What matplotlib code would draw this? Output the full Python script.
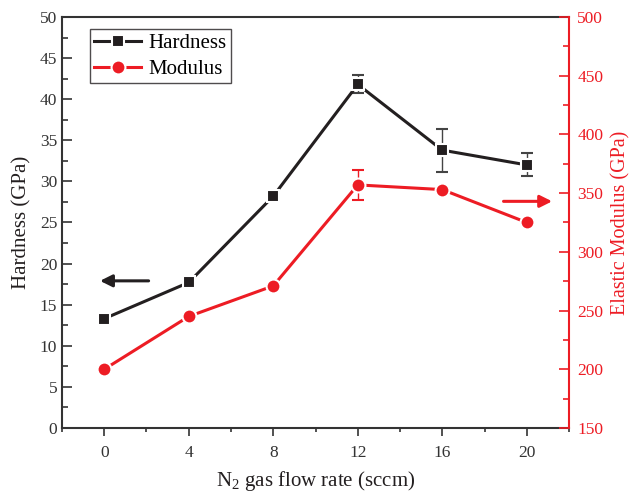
import numpy as np
import matplotlib.pyplot as plt
from matplotlib.lines import Line2D
from matplotlib.ticker import MultipleLocator

plt.rcParams['font.family'] = ['Liberation Serif', 'DejaVu Serif']
plt.rcParams['mathtext.fontset'] = 'custom'
plt.rcParams['mathtext.rm'] = 'Liberation Serif'

# data
flow = [0, 4, 8, 12, 16, 20]
hardness = [13.3, 17.7, 28.2, 41.8, 33.8, 32.0]
hardness_err = [0, 0, 0, 1.1, 2.6, 1.4]
modulus = [200, 245, 271, 357, 353, 325]
modulus_err = [0, 0, 0, 12.5, 0, 0]

red = '#ED1C24'
dark = '#231F20'
axis_col = '#333333'

fig = plt.figure(figsize=(6.3, 4.92), dpi=100)
ax = fig.add_axes([0.0984, 0.1301, 0.8048, 0.8354])
ax2 = ax.twinx()

ax.errorbar(flow, hardness, yerr=hardness_err, color=dark, lw=2.2,
            marker='s', ms=9, mec='white', mew=1.5, mfc=dark,
            ecolor='#444444', elinewidth=1, capsize=4, capthick=1,
            zorder=3)
ax2.errorbar(flow, modulus, yerr=modulus_err, color=red, lw=2.2,
             marker='o', ms=10, mec='white', mew=1.5, mfc=red,
             ecolor=red, elinewidth=1, capsize=4, capthick=1,
             zorder=3)

# direction arrows
ax.annotate('', xy=(-0.2, 17.9), xytext=(2.1, 17.9),
            arrowprops=dict(arrowstyle='-|>', color=dark, lw=2.2,
                            mutation_scale=18, shrinkA=0, shrinkB=0))
ax2.annotate('', xy=(21.2, 343), xytext=(18.9, 343),
             arrowprops=dict(arrowstyle='-|>', color=red, lw=2.2,
                             mutation_scale=18, shrinkA=0, shrinkB=0))

ax.set_xlim(-2, 22)
ax.set_ylim(0, 50)
ax2.set_ylim(150, 500)
ax.set_xticks(flow)
ax.xaxis.set_minor_locator(MultipleLocator(2))
ax.yaxis.set_major_locator(MultipleLocator(5))
ax.yaxis.set_minor_locator(MultipleLocator(2.5))
ax2.yaxis.set_major_locator(MultipleLocator(50))
ax2.yaxis.set_minor_locator(MultipleLocator(25))

ax.tick_params(axis='x', which='both', direction='out', colors=axis_col,
               labelsize=12.5, width=1.2, pad=6)
ax.tick_params(axis='x', which='major', length=6)
ax.tick_params(axis='x', which='minor', length=3)
ax.tick_params(axis='y', which='both', direction='in', colors=axis_col,
               labelsize=12.5, width=1.2)
ax.tick_params(axis='y', which='major', length=7)
ax.tick_params(axis='y', which='minor', length=4)
ax2.tick_params(axis='y', which='both', direction='in', colors=red,
                labelsize=12.5, width=1.2, pad=6)
ax2.tick_params(axis='y', which='major', length=7)
ax2.tick_params(axis='y', which='minor', length=4)

for s in ['left', 'bottom', 'top']:
    ax.spines[s].set_color(axis_col)
    ax.spines[s].set_linewidth(1.5)
    ax2.spines[s].set_visible(False)
ax.spines['right'].set_visible(False)
ax2.spines['right'].set_color(red)
ax2.spines['right'].set_linewidth(1.5)

ax.set_xlabel('N$_2$ gas flow rate (sccm)', fontsize=15, color=dark, labelpad=6)
ax.set_ylabel('Hardness (GPa)', fontsize=15, color=dark, labelpad=6)
ax2.set_ylabel('Elastic Modulus (GPa)', fontsize=14.5, color=red, labelpad=6)

handles = [
    Line2D([], [], color=dark, lw=2.2, marker='s', ms=9, mec='white', mew=1.5, mfc=dark),
    Line2D([], [], color=red, lw=2.2, marker='o', ms=10, mec='white', mew=1.5, mfc=red),
]
leg = ax2.legend(handles, ['Hardness', 'Modulus'], loc='upper left',
                 bbox_to_anchor=(0.055, 0.971),
                 fontsize=15, frameon=True, fancybox=False, edgecolor=dark,
                 handlelength=2.25, borderpad=0.22, labelspacing=0.3,
                 handletextpad=0.33, borderaxespad=0.0)
leg.get_frame().set_linewidth(1.0)

fig.savefig('out.png', dpi=100)
